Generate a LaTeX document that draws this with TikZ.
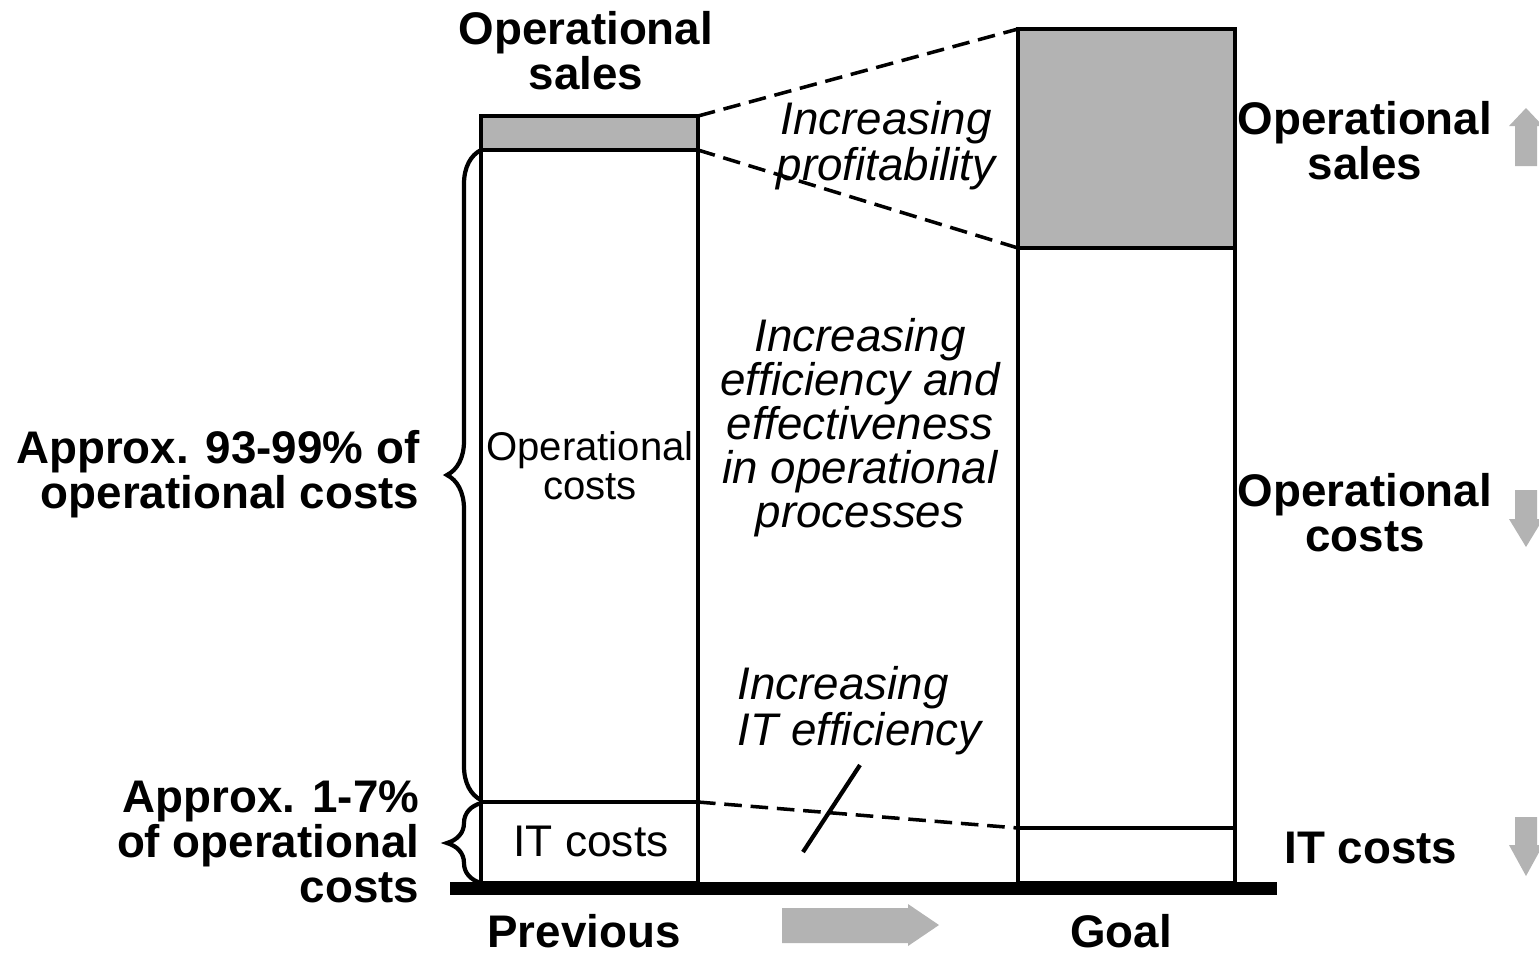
\documentclass[tikz,border=0pt]{standalone}
\usepackage{fontspec}
\setmainfont{Liberation Sans}
\usetikzlibrary{decorations.pathreplacing,positioning}
\definecolor{salesgray}{RGB}{179,179,179}
\begin{document}
\begin{tikzpicture}[x=0.01cm, y=-0.01cm,
		bar/.style={draw=black, line width=1pt},
		guide/.style={line width=1pt, dash pattern=on 5pt off 2.5pt},
		headline/.style={font=\fontsize{13}{12.8}\selectfont\bfseries, align=center, inner sep=0pt},
		sideline/.style={font=\fontsize{13}{12.8}\selectfont\bfseries, align=right, inner sep=0pt, anchor=east},
		note/.style={font=\fontsize{13}{11.4}\selectfont\itshape, align=center, inner sep=0pt},
		inbar/.style={font=\fontsize{11.4}{11.1}\selectfont, align=center, inner sep=0pt},
		fatarrow/.style={fill=salesgray, draw=none},
		bracket/.style={decorate, line width=1.2pt}
		]
	\useasboundingbox (0,0) rectangle (1539,953);

	\coordinate (pTop) at (481,116);
	\coordinate (pSalesR) at (698,116);
	\coordinate (pCostR) at (698,150);
	\coordinate (pITR) at (698,802);
	\coordinate (pBot) at (698,883);
	\coordinate (gTop) at (1018,29);
	\coordinate (gCostL) at (1018,248);
	\coordinate (gITL) at (1018,828);
	\coordinate (gBot) at (1235,883);

	% bars
	\fill[salesgray] (481,116) rectangle (698,150);
	\fill[salesgray] (1018,29) rectangle (1235,248);
	\draw[bar] (pTop) rectangle (pBot);
	\draw[bar] (481,150) -- (pCostR);
	\draw[bar] (481,802) -- (pITR);
	\draw[bar] (gTop) rectangle (gBot);
	\draw[bar] (gCostL) -- (1235,248);
	\draw[bar] (gITL) -- (1235,828);
	\draw[line width=3.7pt] (450,888) -- (1277,888);

	\draw[guide] (pSalesR) -- (gTop);
	\draw[guide] (pCostR) -- (gCostL);
	\draw[guide] (pITR) -- (gITL);
	\coordinate (slashA) at (803,852);
	\coordinate (slashB) at (860,765);
	\draw[line width=1.2pt] (slashA) -- (slashB);

	\draw[bracket, decoration={brace, amplitude=0.34cm}] (481,800) -- (481,150);
	\draw[bracket, decoration={brace, amplitude=0.34cm}] (481,883) -- (481,803);

	\node[headline] (prevsales) at (586,51) {Operational\\sales};
	\node[inbar] (prevcosts) at (590,466) {Operational\\costs};
	\node[inbar, font=\fontsize{12.6}{12.6}\selectfont] (previt) at (591,841) {IT costs};
	\node[sideline] (bigshare) at (420,474) {Approx. 93-99\% of\\operational costs};
	\node[sideline] (itshare) at (420,842) {Approx. 1-7\%\\of operational\\costs};
	\node[headline] (prev) at (584,931) {Previous};
	\node[headline] (goal) at (1121,931) {Goal};

	\node[note] (profit) at (886,146) {Increasing\\profitability};
	\node[note, font=\fontsize{13}{12.5}\selectfont\itshape] (effic) at (860,428) {Increasing\\efficiency and\\effectiveness\\in operational\\processes};
	\node[note, align=left, anchor=west] (iteffic) at (737,711) {Increasing\\IT efficiency};

	\node[headline] (goalsales) at (1365,141) {Operational\\sales};
	\node[headline] (goalcosts) at (1365,513) {Operational\\costs};
	\node[headline] (goalit) at (1371,848) {IT costs};

	% trend arrows
	\fill[fatarrow] (1515,166) -- (1515,126) -- (1509,126) -- (1526,108) -- (1543,126) -- (1537,126) -- (1537,166) -- cycle;
	\fill[fatarrow] (1515,490) -- (1515,519) -- (1509,519) -- (1526,547) -- (1543,519) -- (1537,519) -- (1537,490) -- cycle;
	\fill[fatarrow] (1515,817) -- (1515,845) -- (1509,845) -- (1526,876) -- (1543,845) -- (1537,845) -- (1537,817) -- cycle;
	\fill[fatarrow] (782,908) -- (908,908) -- (908,904) -- (939,925) -- (908,946) -- (908,943) -- (782,943) -- cycle;
\end{tikzpicture}
\end{document}
